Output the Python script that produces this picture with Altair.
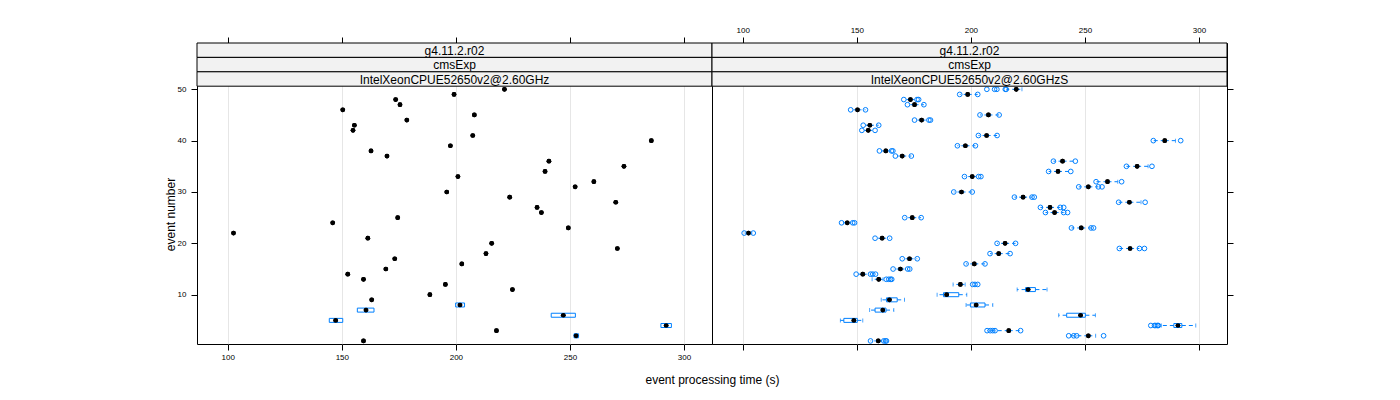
import altair as alt
import pandas as pd

# ---------------- data ----------------
events = list(range(1, 51))
x_ticks = [100, 150, 200, 250, 300]
y_ticks = [10, 20, 30, 40, 50]

strip_common = ["g4.11.2.r02", "cmsExp"]
panel_labels = ["IntelXeonCPUE52650v2@2.60GHz", "IntelXeonCPUE52650v2@2.60GHzS"]

# left panel (one run per event, a few events with a small box)
left_median = [159.5, 252.7, 217.8, 292.2, 147.3, 247.1, 160.6, 201.8, 163.1, 188.6,
               224.8, 195.4, 159.5, 152.6, 169.3, 202.6, 173.2, 213.2, 270.8, 215.7,
               161.4, 102.5, 249.3, 146.0, 174.5, 237.5, 235.6, 270.1, 223.6, 196.0,
               252.3, 260.5, 200.9, 239.1, 273.7, 240.8, 169.8, 162.8, 197.6, 285.7,
               207.4, 154.9, 155.5, 178.5, 208.1, 150.4, 175.5, 173.6, 199.2, 221.3]
left_box_events = [2, 4, 5, 6, 7, 8]
left_box_q1 = [251.8, 289.9, 144.5, 241.8, 156.8, 199.9]
left_box_q3 = [253.8, 294.5, 150.4, 252.4, 164.1, 203.8]

# right panel (several runs per event)
right_median = [159.4, 251.5, 216.6, 290.8, 148.7, 248.1, 161.4, 202.3, 164.3, 189.4,
                225.1, 195.4, 159.6, 152.6, 169.1, 201.5, 173.1, 212.2, 269.8, 215.0,
                161.1, 102.5, 248.4, 145.8, 174.3, 236.7, 234.7, 269.5, 222.9, 195.9,
                251.5, 259.9, 200.6, 238.2, 272.9, 240.2, 169.9, 162.7, 197.6, 285.0,
                206.9, 155.0, 155.7, 178.4, 207.7, 150.3, 175.3, 173.5, 198.6, 219.9]
right_box_events = [4, 5, 6, 7, 8, 9, 10, 11]
right_box_q1 = [289.0, 144.3, 242.0, 158.0, 199.8, 163.0, 188.0, 224.0]
right_box_q3 = [292.5, 150.2, 250.2, 162.8, 206.2, 167.7, 194.7, 228.3]
right_whisker_lo = [156.0, 242.9, 207.1, 283.5, 142.8, 238.5, 155.6, 197.9, 160.7, 185.2,
                    220.3, 192.2, 156.7, 149.7, 165.9, 197.9, 169.9, 208.4, 265.1, 211.5,
                    158.0, 100.6, 244.1, 143.3, 171.0, 232.7, 230.5, 264.8, 219.1, 192.5,
                    247.3, 254.9, 197.2, 234.1, 268.2, 236.2, 166.9, 159.9, 194.1, 280.0,
                    203.3, 152.2, 152.8, 175.3, 204.0, 147.3, 172.2, 170.6, 195.1, 215.5]
right_whisker_hi = [163.0, 254.7, 221.8, 298.6, 152.6, 254.6, 166.2, 209.6, 170.9, 198.2,
                    233.4, 197.5, 161.5, 156.0, 172.3, 206.2, 176.5, 217.2, 273.9, 219.6,
                    164.4, 104.6, 252.7, 148.2, 178.2, 240.7, 239.2, 274.6, 226.8, 200.6,
                    255.9, 264.4, 203.4, 243.8, 277.7, 245.8, 173.9, 165.2, 202.0, 289.7,
                    211.5, 158.0, 159.6, 181.6, 212.4, 153.8, 179.4, 176.4, 203.0, 222.4]
right_runs = [
    [156.0, 161.8, 162.6, 163.0], [242.9, 245.1, 246.4, 258.2],
    [207.1, 208.5, 209.6, 210.6, 221.8], [278.9, 280.5, 281.1, 281.8, 282.2],
    [], [], [], [], [], [], [],
    [200.8, 201.8, 203.0], [162.9, 164.0, 164.8, 165.3], [149.7, 156.0, 157.0, 158.2],
    [165.9, 172.3, 173.2], [197.9, 206.2], [169.9, 176.5], [208.4, 217.2],
    [265.1, 273.9, 276.1], [211.5, 219.6], [158.0, 164.4], [100.6, 104.6],
    [244.1, 252.7, 253.8], [143.3, 148.2, 149.0], [171.0, 178.2], [232.7, 240.7, 242.4],
    [230.5, 239.2, 240.7], [264.8, 276.4], [219.1, 226.8, 227.8], [192.5, 200.6],
    [247.3, 255.9, 257.5], [254.9, 266.1], [197.2, 203.4, 204.4], [234.1, 243.8],
    [268.2, 279.4], [236.2, 245.8], [166.9, 173.9], [159.9, 165.2, 165.8],
    [194.1, 202.0], [280.0, 292.0], [203.3, 211.5], [152.2, 158.0], [152.8, 159.6],
    [175.3, 181.6, 182.3], [204.0, 212.4], [147.3, 153.8], [172.2, 179.4],
    [170.6, 176.4, 177.1], [195.1, 203.0], [207.0, 210.4, 211.4, 215.1, 215.5],
]

# ---------------- layout / style ----------------
W = 515
H = 301
SH = 14.4
PPU = (H - 3 * SH) / 50.2
YTOP = 50.6 + 3 * SH / PPU
BLUE = "#0080ff"
FONT = "Liberation Sans"

xs = alt.Scale(domain=[86.5, 312.3], nice=False, zero=False, padding=0)
ys = alt.Scale(domain=[0.4, YTOP], nice=False, zero=False, padding=0)

# ---------------- tables ----------------
left_pts = pd.DataFrame({"event": events, "value": left_median})
left_box = pd.DataFrame({"event": left_box_events, "q1": left_box_q1, "q3": left_box_q3})

right_pts = pd.DataFrame({"event": events, "value": right_median})
right_box = pd.DataFrame({"event": right_box_events, "q1": right_box_q1, "q3": right_box_q3})
q1_map = dict(zip(right_box_events, right_box_q1))
q3_map = dict(zip(right_box_events, right_box_q3))
wh_rows, cap_rows, run_rows = [], [], []
for i, ev in enumerate(events):
    med = right_median[i]
    q1 = q1_map.get(ev, med)
    q3 = q3_map.get(ev, med)
    lo, hi = right_whisker_lo[i], right_whisker_hi[i]
    runs = right_runs[i]
    if lo < q1:
        wh_rows.append({"event": ev, "a": q1, "b": lo})
    if hi > q3:
        wh_rows.append({"event": ev, "a": q3, "b": hi})
    for c in (lo, hi):
        if all(abs(c - r) > 1.0 for r in runs):
            cap_rows.append({"event": ev, "value": c})
    for r in runs:
        run_rows.append({"event": ev, "value": r})
right_wh = pd.DataFrame(wh_rows)
right_caps = pd.DataFrame(cap_rows)
right_run = pd.DataFrame(run_rows)


def strips(label):
    layers = []
    for i, t in enumerate(strip_common + [label]):
        d = pd.DataFrame({"t": [t]})
        layers.append(alt.Chart(d).mark_rect(fill="#f2f2f2", stroke="black", strokeWidth=1).encode(
            x=alt.value(0), x2=alt.value(W), y=alt.value(i * SH), y2=alt.value((i + 1) * SH)))
        layers.append(alt.Chart(d).mark_text(fontSize=12, font=FONT, color="black", baseline="middle").encode(
            x=alt.value(W / 2), y=alt.value(i * SH + SH / 2 + 0.5), text="t:N"))
    return layers


def ax_x(orient, labels, grid, title=""):
    kw = dict(orient=orient, values=x_ticks, labels=labels, grid=grid, domain=False,
              tickSize=6, tickColor="black", labelFontSize=8, labelPadding=3,
              gridColor="#e6e6e6", title=title, labelFont=FONT)
    if title:
        kw.update(titleX=W, titleY=35, titleAlign="center", titleBaseline="middle",
                  titleFontSize=12, titleFontWeight="normal", titleFont=FONT)
    return alt.Axis(**kw)


def ax_y(orient, labels, title=""):
    kw = dict(orient=orient, values=y_ticks, labels=labels, grid=False, domain=False,
              tickSize=6, tickColor="black", labelFontSize=8, labelPadding=5,
              title=title, labelFont=FONT)
    if title:
        kw.update(titleX=-27, titleY=171, titleAngle=270, titleAlign="center",
                  titleBaseline="middle", titleFontSize=12, titleFontWeight="normal",
                  titleFont=FONT)
    return alt.Axis(**kw)


# ---------------- left panel ----------------
l_main = alt.Chart(left_pts).mark_circle(size=22, color="black", opacity=1).encode(
    x=alt.X("value:Q", scale=xs, axis=ax_x("bottom", True, True, "event processing time (s)")),
    y=alt.Y("event:Q", scale=ys, axis=ax_y("left", True, "event number")),
)
l_top = alt.Chart(left_pts).mark_point(opacity=0).encode(
    x=alt.X("value:Q", scale=xs, axis=ax_x("top", False, False)),
    y=alt.Y("event:Q", scale=ys, axis=None),
)
l_box = alt.Chart(left_box).mark_bar(orient="horizontal", size=4, fillOpacity=0,
                                     stroke=BLUE, strokeWidth=1).encode(
    x=alt.X("q1:Q", scale=xs, axis=None), x2="q3:Q",
    y=alt.Y("event:Q", scale=ys, axis=None),
)
l_dots = alt.Chart(left_pts).mark_circle(size=22, color="black", opacity=1).encode(
    x=alt.X("value:Q", scale=xs, axis=None),
    y=alt.Y("event:Q", scale=ys, axis=None),
)
left_panel = alt.layer(l_main, l_top, l_box, *strips(panel_labels[0]), l_dots).resolve_axis(
    x="independent", y="independent").properties(width=W, height=H)

# ---------------- right panel ----------------
r_main = alt.Chart(right_pts).mark_circle(size=22, color="black", opacity=1).encode(
    x=alt.X("value:Q", scale=xs, axis=ax_x("top", True, True)),
    y=alt.Y("event:Q", scale=ys, axis=ax_y("right", False)),
)
r_bot = alt.Chart(right_pts).mark_point(opacity=0).encode(
    x=alt.X("value:Q", scale=xs, axis=ax_x("bottom", False, False)),
    y=alt.Y("event:Q", scale=ys, axis=None),
)
r_wh = alt.Chart(right_wh).mark_rule(color=BLUE, strokeWidth=1, strokeDash=[4, 3]).encode(
    x=alt.X("a:Q", scale=xs, axis=None), x2="b:Q",
    y=alt.Y("event:Q", scale=ys, axis=None),
)
r_box = alt.Chart(right_box).mark_bar(orient="horizontal", size=4, fillOpacity=0,
                                      stroke=BLUE, strokeWidth=1).encode(
    x=alt.X("q1:Q", scale=xs, axis=None), x2="q3:Q",
    y=alt.Y("event:Q", scale=ys, axis=None),
)
r_caps = alt.Chart(right_caps).mark_tick(orient="vertical", size=4, thickness=1, color=BLUE).encode(
    x=alt.X("value:Q", scale=xs, axis=None),
    y=alt.Y("event:Q", scale=ys, axis=None),
)
r_runs = alt.Chart(right_run).mark_point(shape="circle", filled=False, size=22, color=BLUE,
                                         strokeWidth=1, opacity=1).encode(
    x=alt.X("value:Q", scale=xs, axis=None),
    y=alt.Y("event:Q", scale=ys, axis=None),
)
r_med = alt.Chart(right_pts).mark_circle(size=22, color="black", opacity=1).encode(
    x=alt.X("value:Q", scale=xs, axis=None),
    y=alt.Y("event:Q", scale=ys, axis=None),
)
right_panel = alt.layer(r_main, r_bot, r_wh, r_box, r_caps, r_runs, r_med,
                        *strips(panel_labels[1])).resolve_axis(
    x="independent", y="independent").properties(width=W, height=H)

chart = alt.hconcat(left_panel, right_panel, spacing=0, bounds="flush").properties(
    padding={"left": 163, "top": 25, "right": 5, "bottom": 5},
    background="white",
).configure_view(stroke="black", strokeWidth=1).configure_axis(
    labelColor="black", titleColor="black"
)

chart.save("out.html", embed_options={"renderer": "svg", "actions": False})
